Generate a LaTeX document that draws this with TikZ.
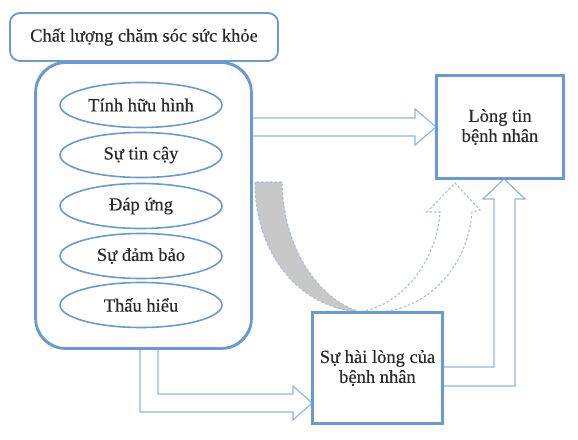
\documentclass[tikz,border=0pt]{standalone}
\usepackage{fontspec}
\setmainfont{Liberation Serif}[UprightFeatures={FakeBold=0.3}]
\usetikzlibrary{shapes.geometric,calc}
\definecolor{boxblue}{HTML}{6A9AD4}
\definecolor{arrblue}{HTML}{92B4E0}
\definecolor{dashblue}{HTML}{A8BEDA}
\definecolor{shade}{HTML}{C8C8C8}
\definecolor{txt}{HTML}{2A2A2A}
\tikzset{
  every node/.style={font=\fontsize{18.5}{20}\selectfont, text=txt},
  roundbox/.style={draw=boxblue, line width=1.8pt, rounded corners=#1, inner sep=0pt},
  ell/.style={draw=boxblue, line width=1.6pt, ellipse, minimum width=162pt, minimum height=45pt, inner sep=0pt},
  sqbox/.style={draw=boxblue, line width=1.8pt, align=center, inner sep=0pt},
  blockarrow/.style={draw=arrblue, line width=1.2pt, fill=white, line join=miter},
  dashband/.style={draw=dashblue, line width=1.1pt, dash pattern=on 2.5pt off 2pt}
}
\begin{document}
\begin{tikzpicture}[x=1pt,y=-1pt]
\useasboundingbox (0,0) rectangle (578,439);
\fill[white] (0,0) rectangle (578,439);
% nodes
\node[roundbox=10pt, minimum width=268pt, minimum height=48pt] (title) at (144,37) {Chất lượng chăm sóc sức khỏe};
\node[roundbox=30pt, minimum width=215pt, minimum height=285pt] (big) at (143.5,205.5) {};
\node[ell] (e1) at (141,105) {Tính hữu hình};
\node[ell] (e2) at (141,155) {Sự tin cậy};
\node[ell] (e3) at (141,206) {Đáp ứng};
\node[ell] (e4) at (141,256) {Sự đảm bảo};
\node[ell] (e5) at (141,305) {Thấu hiểu};
\node[sqbox, minimum width=126pt, minimum height=102pt] (trust) at (500,127) {Lòng tin\\bệnh nhân};
\node[sqbox, minimum width=129pt, minimum height=110pt] (sat) at (377.5,368) {Sự hài lòng của\\bệnh nhân};
% curved arrow (back part)
\filldraw[fill=shade, dashband] (255,182) .. controls (255,255) and (300,308) .. (360,312)
   .. controls (320,300) and (283,250) .. (282,182) -- cycle;
% curved arrow (front part)
\draw[dashband] (357,312) .. controls (400,308) and (437,262) .. (440,212)
   -- (427,212) -- (455,183) -- (480,210) -- (472,212)
   .. controls (468,268) and (425,312) .. (375,312);
% block arrow big -> trust
\draw[blockarrow] (big.east |- 0,118) -- (415,118) -- (415,109) -- (trust.west |- 0,127)
   -- (415,145) -- (415,136) -- (big.east |- 0,136);
% block arrow big -> sat
\draw[blockarrow] (140,0 |- big.south) -- (140,412) -- (293,412) -- (293,420)
   -- (sat.west |- 0,403) -- (293,386) -- (293,394) -- (158,394) -- (158,0 |- big.south);
% block arrow sat -> trust
\draw[blockarrow] (sat.east |- 0,367) -- (494,367) -- (494,199) -- (483,199)
   -- (504,0 |- trust.south) -- (525,199) -- (515,199) -- (515,386) -- (sat.east |- 0,386);
% redraw box borders on top
\draw[boxblue, line width=1.8pt, rounded corners=30pt] (big.south west) rectangle (big.north east);
\draw[boxblue, line width=1.8pt] (sat.south west) rectangle (sat.north east);
\draw[boxblue, line width=1.8pt] (trust.south west) rectangle (trust.north east);
\end{tikzpicture}
\end{document}
